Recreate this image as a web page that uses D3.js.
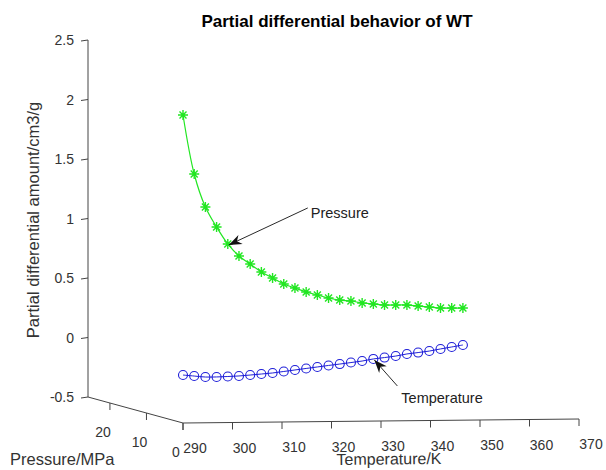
<!DOCTYPE html>
<html>
<head>
<meta charset="utf-8">
<script src="https://cdn.jsdelivr.net/npm/d3@7"></script>
<style>
  body { margin: 0; background: #fff; }
  svg { display: block; font-family: "Liberation Sans", Arial, sans-serif; }
</style>
</head>
<body>
<div id="chart"></div>
<script>
// data (3D: temperature, pressure, partial differential)
var temperature = [290, 293, 296, 299, 302, 305, 308, 311, 314, 317, 320, 323, 326,
                   329, 332, 335, 338, 341, 344, 347, 350, 353, 356, 359, 362, 365];
var pressure = [0, 1, 2, 3, 4, 5, 6, 7, 8, 9, 10, 11, 12,
                13, 14, 15, 16, 17, 18, 19, 20, 21, 22, 23, 24, 25];
var pressureDeriv = [2.088, 1.583, 1.296, 1.118, 0.966, 0.855, 0.778, 0.701, 0.641, 0.581,
                     0.538, 0.495, 0.460, 0.425, 0.398, 0.380, 0.354, 0.336, 0.318, 0.308,
                     0.298, 0.280, 0.262, 0.244, 0.234, 0.225];
var temperatureDeriv = [-0.097, -0.115, -0.133, -0.142, -0.148, -0.153, -0.155, -0.156, -0.157, -0.154,
                        -0.151, -0.148, -0.145, -0.142, -0.140, -0.137, -0.134, -0.126, -0.124, -0.121,
                        -0.113, -0.111, -0.108, -0.100, -0.093, -0.086];

var tempTicks = [290, 300, 310, 320, 330, 340, 350, 360, 370];
var pressTicks = [0, 10, 20];
var zTicks = [-0.5, 0, 0.5, 1, 1.5, 2, 2.5];

let width = 606, height = 470;
let origin = {x: 183, y: 423};

// oblique projection built from linear scales
let tX = d3.scaleLinear().domain([290, 370]).range([0, 396]);
let tY = d3.scaleLinear().domain([290, 370]).range([0, -4]);
let pX = d3.scaleLinear().domain([0, 26]).range([0, -95]);
let pY = d3.scaleLinear().domain([0, 26]).range([0, -26]);
let zY = d3.scaleLinear().domain([-0.5, 2.5]).range([0, -357]);

let proj = (T, P, Z) => {
    return [origin.x + tX(T) + pX(P), origin.y + tY(T) + pY(P) + zY(Z)];
};

let svg = d3.select('#chart')
    .append('svg')
    .attr('width', width)
    .attr('height', height);

let axisColor = '#444';
let textColor = '#333';

// temperature axis
let t0 = proj(290, 0, -0.5), t1 = proj(370, 0, -0.5);
svg.append('line')
    .attr('x1', t0[0]).attr('y1', t0[1]).attr('x2', t1[0]).attr('y2', t1[1])
    .attr('stroke', axisColor);

tempTicks.forEach((t) => {
    let p = proj(t, 0, -0.5);
    svg.append('line')
        .attr('x1', p[0]).attr('y1', p[1]).attr('x2', p[0]).attr('y2', p[1] + 7)
        .attr('stroke', axisColor);
    svg.append('text')
        .attr('x', p[0] + 12).attr('y', p[1] + 25)
        .attr('text-anchor', 'middle')
        .attr('dominant-baseline', 'central')
        .attr('font-size', 14)
        .attr('fill', textColor)
        .text(t);
});

// pressure axis
let p0 = proj(290, 0, -0.5), p1 = proj(290, 26, -0.5);
svg.append('line')
    .attr('x1', p0[0]).attr('y1', p0[1]).attr('x2', p1[0]).attr('y2', p1[1])
    .attr('stroke', axisColor);

pressTicks.forEach((pr) => {
    let p = proj(290, pr, -0.5);
    svg.append('line')
        .attr('x1', p[0]).attr('y1', p[1]).attr('x2', p[0]).attr('y2', p[1] + 7)
        .attr('stroke', axisColor);
    svg.append('text')
        .attr('x', p[0] - 7).attr('y', p[1] + 29)
        .attr('text-anchor', 'middle')
        .attr('dominant-baseline', 'central')
        .attr('font-size', 14)
        .attr('fill', textColor)
        .text(pr);
});

// vertical axis
let z0 = proj(290, 26, -0.5), z1 = proj(290, 26, 2.5);
svg.append('line')
    .attr('x1', z0[0]).attr('y1', z0[1]).attr('x2', z1[0]).attr('y2', z1[1])
    .attr('stroke', axisColor);

zTicks.forEach((z) => {
    let p = proj(290, 26, z);
    svg.append('line')
        .attr('x1', p[0]).attr('y1', p[1]).attr('x2', p[0] - 7).attr('y2', p[1] + 1)
        .attr('stroke', axisColor);
    svg.append('text')
        .attr('x', p[0] - 14).attr('y', p[1])
        .attr('text-anchor', 'end')
        .attr('dominant-baseline', 'central')
        .attr('font-size', 14)
        .attr('fill', textColor)
        .text(z);
});

// axis labels and title
svg.append('text')
    .attr('x', 337).attr('y', 27)
    .attr('text-anchor', 'middle')
    .attr('font-size', 17)
    .attr('font-weight', 'bold')
    .attr('fill', '#000')
    .text('Partial differential behavior of WT');

svg.append('text')
    .attr('transform', 'translate(33,220) rotate(-90)')
    .attr('text-anchor', 'middle')
    .attr('dominant-baseline', 'central')
    .attr('font-size', 16.5)
    .attr('fill', textColor)
    .text('Partial differential amount/cm3/g');

svg.append('text')
    .attr('transform', 'translate(389,459) rotate(-0.6)')
    .attr('text-anchor', 'middle')
    .attr('dominant-baseline', 'central')
    .attr('font-size', 16)
    .attr('fill', textColor)
    .text('Temperature/K');

svg.append('text')
    .attr('x', 10).attr('y', 459)
    .attr('dominant-baseline', 'central')
    .attr('font-size', 16.5)
    .attr('fill', textColor)
    .text('Pressure/MPa');

// series
let green = '#22e622';
let blue = '#1f1fd8';

let greenPts = temperature.map((t, i) => proj(t, pressure[i], pressureDeriv[i]));
let bluePts = temperature.map((t, i) => proj(t, pressure[i], temperatureDeriv[i]));

let line = d3.line().curve(d3.curveCatmullRom);

svg.append('path')
    .attr('d', line(greenPts))
    .attr('fill', 'none')
    .attr('stroke', green)
    .attr('stroke-width', 1.2);

svg.selectAll('.star')
    .data(greenPts)
    .enter().append('path')
        .attr('class', 'star')
        .attr('transform', (d) => 'translate(' + d[0] + ',' + d[1] + ')')
        .attr('d', 'M-5,0H5M0,-5V5M-3.5,-3.5L3.5,3.5M-3.5,3.5L3.5,-3.5')
        .attr('stroke', green)
        .attr('stroke-width', 1.4)
        .attr('fill', 'none');

svg.append('path')
    .attr('d', line(bluePts))
    .attr('fill', 'none')
    .attr('stroke', blue)
    .attr('stroke-width', 1);

svg.selectAll('.ring')
    .data(bluePts)
    .enter().append('circle')
        .attr('class', 'ring')
        .attr('cx', (d) => d[0])
        .attr('cy', (d) => d[1])
        .attr('r', 4.5)
        .attr('stroke', blue)
        .attr('stroke-width', 1.1)
        .attr('fill', 'none');

// annotation arrows, tips anchored on data points
let arrow = (tip, tail, label, textOff) => {
    svg.append('line')
        .attr('x1', tail[0]).attr('y1', tail[1]).attr('x2', tip[0]).attr('y2', tip[1])
        .attr('stroke', '#111')
        .attr('stroke-width', 0.9);
    let ang = Math.atan2(tip[1] - tail[1], tip[0] - tail[0]) * 180 / Math.PI;
    svg.append('path')
        .attr('transform', 'translate(' + tip[0] + ',' + tip[1] + ') rotate(' + ang + ')')
        .attr('d', 'M0,0L-13,-5L-9,0L-13,5Z')
        .attr('fill', '#111');
    svg.append('text')
        .attr('x', tip[0] + textOff[0]).attr('y', tip[1] + textOff[1])
        .attr('font-size', 14.5)
        .attr('fill', '#222')
        .text(label);
};

let pTip = greenPts[4];
arrow([pTip[0] + 1, pTip[1] + 1], [pTip[0] + 80, pTip[1] - 36], 'Pressure', [82, -27]);

let tTip = bluePts[17];
arrow([tTip[0] + 1, tTip[1] + 1], [tTip[0] + 24, tTip[1] + 27], 'Temperature', [27, 43]);
</script>
</body>
</html>
